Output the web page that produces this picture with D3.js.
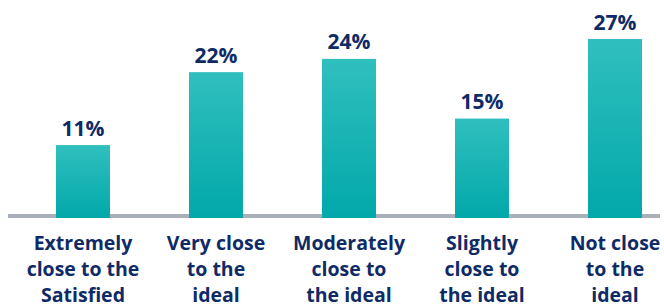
<!DOCTYPE html>
<html>
<head>
<meta charset="utf-8" />
<style>
body {
  margin: 0;
  background-color: white;
}
svg {
  display: block;
}
.value-label,
.cat-label {
  font-family: "Open Sans", sans-serif;
  font-weight: bold;
  fill: #0f2b66;
}
</style>
<script src="https://cdnjs.cloudflare.com/ajax/libs/d3/7.8.5/d3.min.js"></script>
</head>
<body>
<div id="svg-chart"></div>

<script>
  var categories = [
    ["Extremely", "close to the", "Satisfied"],
    ["Very close", "to the", "ideal"],
    ["Moderately", "close to", "the ideal"],
    ["Slightly", "close to", "the ideal"],
    ["Not close", "to the", "ideal"]
  ];
  var values = [11, 22, 24, 15, 27];

  var width = 664,
      height = 305,
      baseY = 218;

  var svg = d3.select("#svg-chart")
    .append("svg")
    .attr("width", width)
    .attr("height", height);

  var defs = svg.append("defs");
  var grad = defs.append("linearGradient")
    .attr("id", "barGrad")
    .attr("x1", 0).attr("y1", 0)
    .attr("x2", 0).attr("y2", 1);
  grad.append("stop").attr("offset", "0%").attr("stop-color", "#30bfbe");
  grad.append("stop").attr("offset", "100%").attr("stop-color", "#02a8aa");

  var xScale = d3.scaleBand()
    .domain(d3.range(values.length))
    .range([16.5, 681.5])
    .paddingInner(0.594)
    .paddingOuter(0.297);

  var yScale = d3.scaleLinear()
    .domain([0, 27])
    .range([baseY, 39]);

  // grey baseline
  svg.append("line")
    .attr("x1", 8)
    .attr("x2", 660)
    .attr("y1", baseY - 2)
    .attr("y2", baseY - 2)
    .attr("stroke", "#a9b0b9")
    .attr("stroke-width", 4);

  svg.selectAll(".bar")
    .data(values)
    .enter().append("rect")
    .attr("class", "bar")
    .attr("x", function(d, i) { return xScale(i) })
    .attr("y", function(d) { return yScale(d) })
    .attr("width", xScale.bandwidth())
    .attr("height", function(d) { return baseY - yScale(d) })
    .attr("fill", "url(#barGrad)");

  svg.selectAll(".value-label")
    .data(values)
    .enter().append("text")
    .attr("class", "value-label")
    .attr("x", function(d, i) { return xScale(i) + xScale.bandwidth() / 2 })
    .attr("y", function(d) { return yScale(d) - 9.5 })
    .attr("text-anchor", "middle")
    .attr("font-size", "21px")
    .text(function(d) { return d + "%" });

  var cats = svg.selectAll(".cat-label")
    .data(categories)
    .enter().append("text")
    .attr("class", "cat-label")
    .attr("text-anchor", "middle")
    .attr("font-size", "19.5px");

  cats.selectAll("tspan")
    .data(function(d, i) { return d.map(function(t) { return { t: t, i: i } }) })
    .enter().append("tspan")
    .attr("x", function(d) { return xScale(d.i) + xScale.bandwidth() / 2 })
    .attr("y", function(d, j) { return 250 + j * 26 })
    .text(function(d) { return d.t });
</script>
</body>
</html>
